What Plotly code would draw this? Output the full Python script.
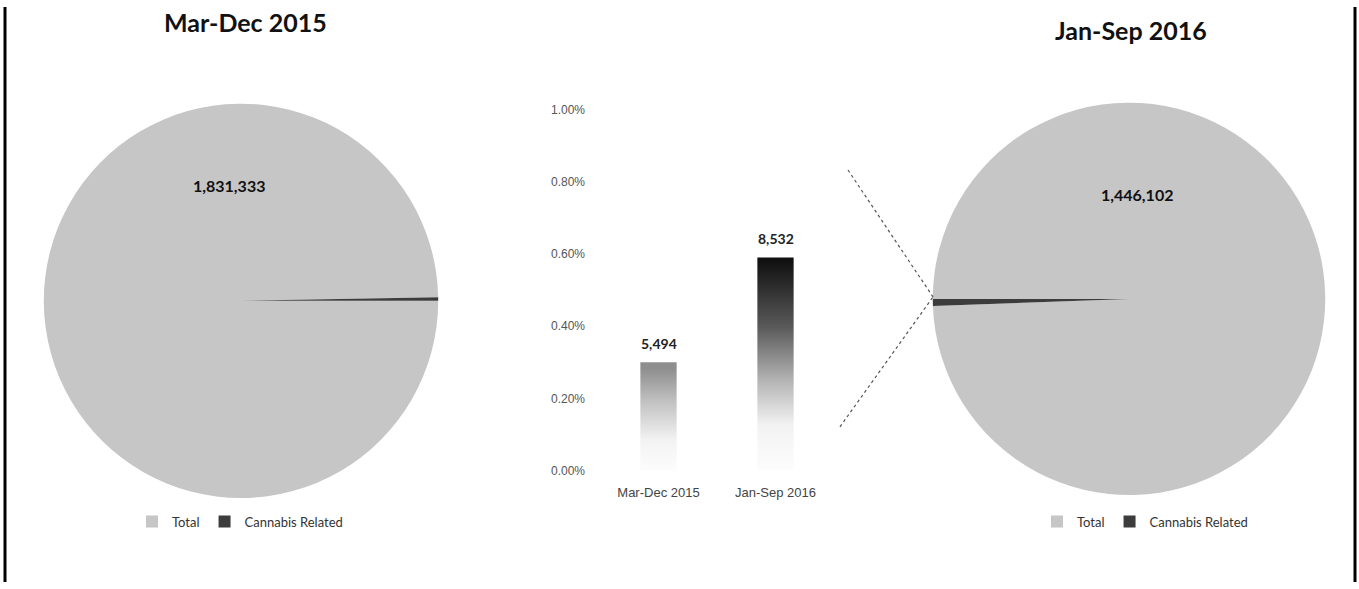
import plotly.graph_objects as go

# ---------------- data ----------------
periods = ["Mar-Dec 2015", "Jan-Sep 2016"]
total_counts = [1831333, 1446102]
cannabis_counts = [5494, 8532]
slice_labels = ["Total", "Cannabis Related"]
y_tick_vals = [0.0, 0.002, 0.004, 0.006, 0.008, 0.010]
y_tick_text = ["0.00%", "0.20%", "0.40%", "0.60%", "0.80%", "1.00%"]

share = [c / t for c, t in zip(cannabis_counts, total_counts)]

W, H = 1359, 589


def px(x):
    return x / W


def py(y):
    return 1 - y / H


slice_colors = ["#c6c6c6", "#3c3c3c"]
title_font = dict(family="Lato, Carlito, sans-serif", size=25, color="#111111")
legend_font = dict(family="Liberation Sans Narrow, Lato, sans-serif", size=13, color="#333333")

fig = go.Figure()

# ---------------- pies ----------------
fig.add_trace(go.Pie(
    labels=slice_labels,
    values=[total_counts[0], cannabis_counts[0]],
    sort=False, direction="clockwise", rotation=90,
    marker=dict(colors=slice_colors, line=dict(width=0)),
    textinfo="none",
    domain=dict(x=[px(39), px(443)], y=[py(503), py(99)]),
    legend="legend", legendgroup="p1", showlegend=True,
    name=periods[0],
))
fig.add_trace(go.Pie(
    labels=slice_labels,
    values=[total_counts[1], cannabis_counts[1]],
    sort=False, direction="counterclockwise", rotation=270,
    marker=dict(colors=slice_colors, line=dict(width=0)),
    textinfo="none",
    domain=dict(x=[px(928), px(1330)], y=[py(500), py(98)]),
    legend="legend2", legendgroup="p2", showlegend=True,
    name=periods[1],
))

# ---------------- gradient bars (share of cannabis-related) ----------------
half_w = 0.155
bar_scales = [
    [[0, "#ffffff"], [0.35, "#f3f3f3"], [0.7, "#c2c2c2"], [1, "#8e8e8e"]],
    [[0, "#ffffff"], [0.25, "#f2f2f2"], [0.45, "#b5b5b5"], [0.7, "#595959"], [1, "#111111"]],
]
for i, v in enumerate(share):
    fig.add_trace(go.Scatter(
        x=[i - half_w, i + half_w, i + half_w, i - half_w, i - half_w],
        y=[0, 0, v, v, 0],
        mode="lines", line=dict(width=0), fill="toself",
        fillgradient=dict(type="vertical", colorscale=bar_scales[i], start=0, stop=v),
        xaxis="x", yaxis="y", showlegend=False, hoverinfo="skip",
    ))

# ---------------- annotations ----------------
annotations = [
    dict(text=f"<b>{periods[0]}</b>", x=px(245), y=py(15), xref="paper", yref="paper",
         showarrow=False, font=title_font, xanchor="center", yanchor="middle"),
    dict(text=f"<b>{periods[1]}</b>", x=px(1131), y=py(24), xref="paper", yref="paper",
         showarrow=False, font=title_font, xanchor="center", yanchor="middle"),
    dict(text=f"<b>{total_counts[0]:,}</b>", x=px(229), y=py(183), xref="paper", yref="paper",
         showarrow=False, font=dict(family="Lato, sans-serif", size=16, color="#111111"),
         xanchor="center", yanchor="middle"),
    dict(text=f"<b>{total_counts[1]:,}</b>", x=px(1137), y=py(192), xref="paper", yref="paper",
         showarrow=False, font=dict(family="Lato, sans-serif", size=16, color="#111111"),
         xanchor="center", yanchor="middle"),
]
for i, (v, c) in enumerate(zip(share, cannabis_counts)):
    annotations.append(dict(
        text=f"<b>{c:,}</b>", x=i, y=v, xref="x", yref="y",
        showarrow=False, yshift=19, xanchor="center", yanchor="middle",
        font=dict(family="Lato, sans-serif", size=14, color="#222222"),
    ))

# ---------------- shapes: connectors + border ----------------
shapes = [
    dict(type="line", xref="paper", yref="paper", x0=px(848), y0=py(167), x1=px(933), y1=py(297),
         line=dict(color="#555555", width=1.2, dash="dot")),
    dict(type="line", xref="paper", yref="paper", x0=px(840), y0=py(430), x1=px(933), y1=py(297),
         line=dict(color="#555555", width=1.2, dash="dot")),
    dict(type="line", xref="paper", yref="paper", x0=px(5), y0=0, x1=px(5), y1=1,
         line=dict(color="#000000", width=3)),
    dict(type="line", xref="paper", yref="paper", x0=px(1355), y0=0, x1=px(1355), y1=1,
         line=dict(color="#000000", width=3)),
]

fig.update_layout(
    width=W, height=H,
    margin=dict(l=0, r=0, t=0, b=0),
    paper_bgcolor="white", plot_bgcolor="white",
    xaxis=dict(domain=[px(600), px(834)], range=[-0.5, 1.5],
               tickvals=list(range(len(periods))), ticktext=periods,
               showgrid=False, zeroline=False, showline=False, ticks="",
               ticklabelstandoff=12,
               tickfont=dict(family="Liberation Sans, Arial, sans-serif", size=13, color="#444444"),
               fixedrange=True),
    yaxis=dict(domain=[py(475), py(105)], range=[0, 0.01],
               tickvals=y_tick_vals, ticktext=y_tick_text,
               showgrid=False, zeroline=False, showline=False, ticks="",
               ticklabelstandoff=14,
               tickfont=dict(family="Liberation Sans, Arial, sans-serif", size=12, color="#555555"),
               fixedrange=True),
    legend=dict(orientation="h", traceorder="normal", x=px(240), y=py(527),
                xanchor="center", yanchor="middle",
                font=legend_font, bgcolor="rgba(0,0,0,0)", itemclick=False),
    legend2=dict(orientation="h", traceorder="normal", x=px(1145), y=py(527),
                 xanchor="center", yanchor="middle",
                 font=legend_font, bgcolor="rgba(0,0,0,0)", itemclick=False),
    annotations=annotations,
    shapes=shapes,
    showlegend=True,
)

fig.write_html("out.html", config={"displayModeBar": False},
               post_script="document.body.style.margin='0px';")
